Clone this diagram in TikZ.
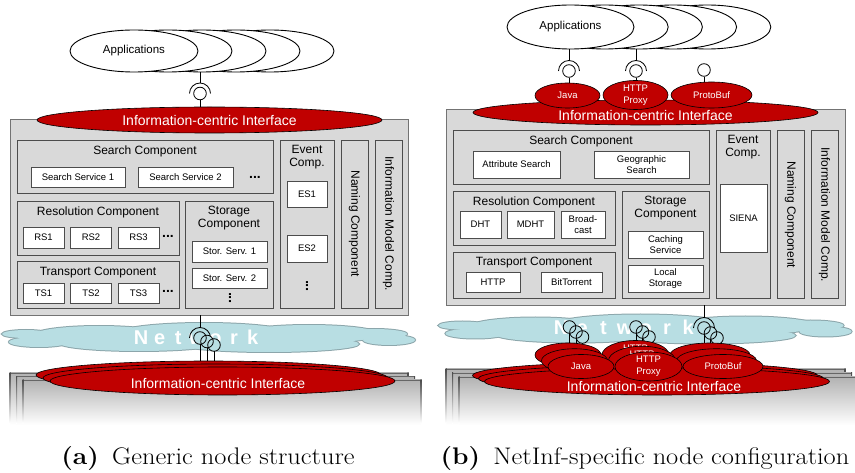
\documentclass[tikz,border=0pt]{standalone}
\usepackage{fontspec}
\newfontfamily\arialfont{Liberation Sans}
\usetikzlibrary{shapes.geometric}

\definecolor{ifred}{HTML}{C00000}
\definecolor{compgrey}{HTML}{D9D9D9}
\definecolor{netblue}{HTML}{B8DEE3}
\definecolor{netedge}{HTML}{8CA6AB}

% puffs of the flat network cloud: cx/cy/rx/ry
\def\cloudpuffs{-183/-3/24/4, -170/5/30/5, -110/-2/65/9, -5/-4/85/10, 100/-3/70/9,
  165/-3/33/5, 180/3/26/5, -70/6/80/8, 60/7/90/8}

\tikzset{
  outerbox/.style={draw=black!55, fill=compgrey, line width=0.9pt, inner sep=0},
  comp/.style={draw=black!70, fill=compgrey, line width=0.9pt},
  comptitle/.style={font=\arialfont\fontsize{12}{13}\selectfont, align=center, inner sep=0},
  svc/.style={draw=black!70, fill=white, line width=0.8pt, inner sep=0, align=center,
    font=\arialfont\fontsize{9.5}{11}\selectfont},
  hdots/.style={inner sep=0, font=\arialfont\bfseries\fontsize{14}{14}\selectfont},
  vdots/.style={hdots, rotate=90},
  app/.style={ellipse, draw, fill=white, line width=0.9pt, minimum width=128, minimum height=42,
    inner sep=0, font=\arialfont\fontsize{11.5}{13}\selectfont},
  iface/.style={ellipse, draw=black, fill=ifred, line width=0.6pt, minimum width=345, inner sep=0,
    text=white, font=\arialfont\fontsize{14}{16}\selectfont},
  ifacetext/.style={inner sep=0, text=white, font=\arialfont\fontsize{14}{16}\selectfont},
  plug/.style={ellipse, draw=black, fill=ifred, line width=0.6pt, inner sep=0, text=white,
    align=center, font=\arialfont\fontsize{9.5}{12}\selectfont},
  ball/.style={circle, draw, line width=0.8pt, fill=white, minimum size=12.6, inner sep=0},
  netball/.style={circle, fill=netblue, minimum size=12.6, inner sep=0},
  wire/.style={line width=0.8pt},
  sockarc/.style={line width=0.8pt},
  netletter/.style={text=white, inner sep=0, anchor=base, font=\arialfont\bfseries\fontsize{20}{22}\selectfont},
  basefill/.style={top color=black!30, bottom color=white},
  baseside/.style={top color=black!70, bottom color=white},
  baseedge/.style={draw=black!60, line width=0.8pt},
  subcap/.style={inner sep=0, transform shape, xscale=1.1, font=\fontsize{24}{28}\selectfont},
  netcloud/.pic={
    \foreach \cx/\cy/\rx/\ry in \cloudpuffs
      \draw[netedge, line width=2pt] (\cx,\cy) ellipse [x radius=\rx, y radius=\ry];
    \foreach \cx/\cy/\rx/\ry in \cloudpuffs
      \fill[netblue] (\cx,\cy) ellipse [x radius=\rx, y radius=\ry];
  },
}

\begin{document}
\begin{tikzpicture}[x=1pt, y=-1pt]
\useasboundingbox (0,0) rectangle (855,473);

% ================= (a) generic node structure =================
\foreach \i in {4,3,2,1}
  \node[app] (appa\i) at (134+34*\i,51) {};
\node[app] (appa0) at (134,51) {Applications};

\node[outerbox, minimum width=398, minimum height=196] (bodya) at (209,217) {};

\draw[comp] (17,140) rectangle (273,193);
\node[comptitle] (searcha) at (145,151) {Search Component};
\node[svc, minimum width=94, minimum height=20] (ss1) at (78,177) {Search Service 1};
\node[svc, minimum width=95, minimum height=20] (ss2) at (185.5,177) {Search Service 2};
\node[hdots] (ssdots) at (255,177) {...};

\draw[comp] (17,201) rectangle (179,255);
\node[comptitle] (resa) at (98,212) {Resolution Component};
\foreach \n [count=\i from 0] in {RS1,RS2,RS3}
  \node[svc, minimum width=41, minimum height=21] (\n) at (43.5+47.5*\i,237.5) {\n};
\node[hdots] (rsdots) at (168,236) {...};

\draw[comp] (17,261) rectangle (179,308);
\node[comptitle] (trana) at (98,273) {Transport Component};
\foreach \n [count=\i from 0] in {TS1,TS2,TS3}
  \node[svc, minimum width=41, minimum height=20] (\n) at (43.5+47.5*\i,293) {\n};
\node[hdots] (tsdots) at (168,291) {...};

\draw[comp] (185,201) rectangle (273,308);
\node[comptitle] (stora) at (229,218.5) {Storage\\Component};
\node[svc, minimum width=75, minimum height=21] (st1) at (229.5,251.5) {Stor. Serv. 1};
\node[svc, minimum width=75, minimum height=20] (st2) at (229.5,278) {Stor. Serv. 2};
\node[vdots] (stdots) at (230,298) {...};

\draw[comp] (280,140) rectangle (334,308);
\node[comptitle] (eventa) at (307,157.5) {Event\\Comp.};
\node[svc, minimum width=40, minimum height=26] (es1) at (307,194) {ES1};
\node[svc, minimum width=40, minimum height=27] (es2) at (307,248.5) {ES2};
\node[vdots] (esdots) at (307,286) {...};

\draw[comp] (341,140) rectangle (368,308);
\node[comptitle, rotate=-90] (naminga) at (354.5,224) {Naming Component};
\draw[comp] (375,140) rectangle (402,308);
\node[comptitle, rotate=-90] (infoa) at (388.5,224) {Information Model Comp.};

\node[iface, minimum height=26] (ifa) at (209.5,120) {Information-centric Interface};

% socket between applications and interface
\node[ball] (sa) at (200,93.5) {};
\draw[sockarc] ([xshift=-10.5pt]sa.center) arc[start angle=180, end angle=360, radius=10.5];
\coordinate (sa-top) at ([yshift=10.5pt]sa.center);
\draw[wire] (sa-top) -- (sa-top |- appa0.south);
\draw[wire] (sa.south) -- (sa.south |- ifa.north);

% stacked network nodes
\foreach \d in {0,1,2} {
  \shade[basefill] (10+6.5*\d,373+3.5*\d) rectangle (408+6.5*\d,425);
  \draw[baseedge] (10+6.5*\d,373+3.5*\d) -- (408+6.5*\d,373+3.5*\d);
  \shade[baseside] (9.5+6.5*\d,373+3.5*\d) rectangle (10.5+6.5*\d,423);
  \shade[baseside] (407.5+6.5*\d,373+3.5*\d) rectangle (408.5+6.5*\d,423);
}

\pic (clouda) at (209,337) {netcloud};
\foreach \ch [count=\i from 0] in {N,e,t,w,o,r,k}
  \node[netletter] (neta\i) at (141+18.6*\i,344.5) {\ch};

\draw[sockarc] (189.5,338) arc[start angle=180, end angle=360, radius=10.5];
\foreach \i/\x/\y in {1/200/338, 2/207/341.5, 3/214/345}
  \node[netball] (na\i) at (\x,\y) {};
\foreach \i in {1,2,3}
  \draw[wire] (na\i.center) circle [radius=6.3];
\coordinate (na-top) at ([yshift=10.5pt]na1.center);
\draw[wire] (na-top) -- (na-top |- bodya.south);

\coordinate (ea1) at (208.5,375);
\coordinate (ea2) at (215.5,378);
\coordinate (ea3) at (222.5,381);
\foreach \i in {1,2,3}
  \draw[wire] (na\i.south) -- (na\i.south |- ea\i);
\foreach \i in {1,2,3}
  \node[iface, minimum height=28] (ifa\i) at (ea\i) {};
\node[ifacetext] (ifatxt) at (218,383) {Information-centric Interface};

\node[subcap] (capa) at (208,459) {\textbf{(a)}\hspace{0.5em}Generic node structure};

% ================= (b) NetInf-specific node configuration =================
\foreach \i in {4,3,2,1}
  \node[app, minimum width=127, minimum height=44] (appb\i) at (570.5+34.2*\i,27) {};
\node[app, minimum width=127, minimum height=44] (appb0) at (570.5,27) {Applications};

\node[outerbox, minimum width=399, minimum height=196] (bodyb) at (645.5,207) {};

\draw[comp] (453,130) rectangle (709,184);
\node[comptitle] (searchb) at (581,141) {Search Component};
\node[svc, minimum width=87, minimum height=27] (attr) at (516.5,164.5) {Attribute Search};
\node[svc, minimum width=95, minimum height=27] (geo) at (641.5,164.5) {Geographic\\Search};

\draw[comp] (453,191) rectangle (615,245);
\node[comptitle] (resb) at (534,202) {Resolution Component};
\node[svc, minimum width=41, minimum height=27] (dht) at (480.5,224.5) {DHT};
\node[svc, minimum width=47, minimum height=27] (mdht) at (530.5,224.5) {MDHT};
\node[svc, minimum width=44, minimum height=27] (bcast) at (583,224.5) {Broad-\\cast};

\draw[comp] (453,252) rectangle (615,298);
\node[comptitle] (tranb) at (534,263) {Transport Component};
\node[svc, minimum width=54, minimum height=20] (http) at (493,282) {HTTP};
\node[svc, minimum width=61, minimum height=20] (bitt) at (571.5,282) {BitTorrent};

\draw[comp] (622,191) rectangle (709,298);
\node[comptitle] (storb) at (665.5,208.5) {Storage\\Component};
\node[svc, minimum width=75, minimum height=27] (cache) at (665.5,244.5) {Caching\\Service};
\node[svc, minimum width=75, minimum height=27] (local) at (665.5,278.5) {Local\\Storage};

\draw[comp] (716,130) rectangle (770,298);
\node[comptitle] (eventb) at (743,147.5) {Event\\Comp.};
\node[svc, minimum width=47, minimum height=68] (siena) at (743.5,218) {SIENA};

\draw[comp] (777,130) rectangle (804,298);
\node[comptitle, rotate=-90] (namingb) at (790.5,215) {Naming Component};
\draw[comp] (811,130) rectangle (838,298);
\node[comptitle, rotate=-90] (infob) at (824.5,215) {Information Model Comp.};

\node[iface, minimum height=25] (ifb) at (645.5,112.5) {};
\node[ifacetext] (ifbtxt) at (645.5,115) {Information-centric Interface};

\node[plug, minimum width=65, minimum height=25] (java) at (567.5,95.5) {Java};
\node[plug, minimum width=65, minimum height=26] (proxy) at (635.5,95) {HTTP\\Proxy};
\node[plug, minimum width=81, minimum height=26] (proto) at (711.5,95) {ProtoBuf};

% sockets between applications and bindings
\foreach \b/\x/\y in {bj/569/71, bh/636/71, bp/704/70}
  \node[ball] (\b) at (\x,\y) {};
\foreach \b in {bj,bh} {
  \draw[sockarc] ([xshift=-10.5pt]\b.center) arc[start angle=180, end angle=360, radius=10.5];
  \coordinate (\b-top) at ([yshift=10.5pt]\b.center);
  \draw[wire] (\b-top) -- (\b-top |- appb0.south);
}
\draw[wire] (bj.south) -- (bj.south |- java.north);
\draw[wire] (bh.south) -- (bh.south |- proxy.north);
\draw[wire] (bp.south) -- (bp.south |- proto.north);

% stacked network nodes
\foreach \d in {0,1,2} {
  \shade[basefill] (446+6.5*\d,369+4*\d) rectangle (845+6.5*\d,425);
  \draw[baseedge] (446+6.5*\d,369+4*\d) -- (845+6.5*\d,369+4*\d);
  \shade[baseside] (445.5+6.5*\d,369+4*\d) rectangle (446.5+6.5*\d,423);
  \shade[baseside] (844.5+6.5*\d,369+4*\d) rectangle (845.5+6.5*\d,423);
}

\pic (cloudb) at (645.5,328.5) {netcloud};
\foreach \ch [count=\i from 0] in {N,e,t,w,o,r,k}
  \node[netletter] (netb\i) at (561+21.2*\i,334.5) {\ch};

\draw[sockarc] (693.5,328) arc[start angle=180, end angle=360, radius=10.5];
\foreach \g/\x/\y in {j/569.5/327, h/636/327, p/704/328}
  \foreach \k in {0,1,2}
    \node[netball] (n\g\k) at (\x+6.5*\k,\y+5*\k) {};
\foreach \g in {j,h,p}
  \foreach \k in {0,1,2}
    \draw[wire] (n\g\k.center) circle [radius=6.3];
\coordinate (np-top) at ([yshift=10.5pt]np0.center);
\draw[wire] (np-top) -- (np-top |- bodyb.south);

\foreach \g/\fx in {j/581, h/648.5, p/723}
  \foreach \k in {0,1,2}
    \coordinate (s\g\k) at (\fx-13+6.5*\k,355+5.75*\k);
\foreach \g in {j,h,p}
  \foreach \k in {0,1,2}
    \draw[wire] (n\g\k.south) -- (n\g\k.south |- s\g\k);

\foreach \i/\x/\y in {1/645/375.5, 2/651/378.5, 3/657/381.5}
  \node[iface, minimum height=27] (ifb\i) at (\x,\y) {};
\node[ifacetext] (ifb3txt) at (654,386) {Information-centric Interface};

% back copies of the bindings (only the proxy label peeks out)
\foreach \k in {0,1} {
  \node[plug, minimum width=66, minimum height=24] (plj\k) at (sj\k) {};
  \node[plug, minimum width=67, minimum height=24] (plh\k) at (sh\k) {HTTP\\Proxy};
  \node[plug, minimum width=80, minimum height=24] (plp\k) at (sp\k) {};
}
\node[plug, minimum width=66, minimum height=24] (plj2) at (sj2) {Java};
\node[plug, minimum width=67, minimum height=24] (plh2) at (sh2) {HTTP\\Proxy};
\node[plug, minimum width=80, minimum height=24] (plp2) at (sp2) {ProtoBuf};

\node[subcap] (capb) at (645,459) {\textbf{(b)}\hspace{0.5em}NetInf-specific node configuration};
\end{tikzpicture}
\end{document}
